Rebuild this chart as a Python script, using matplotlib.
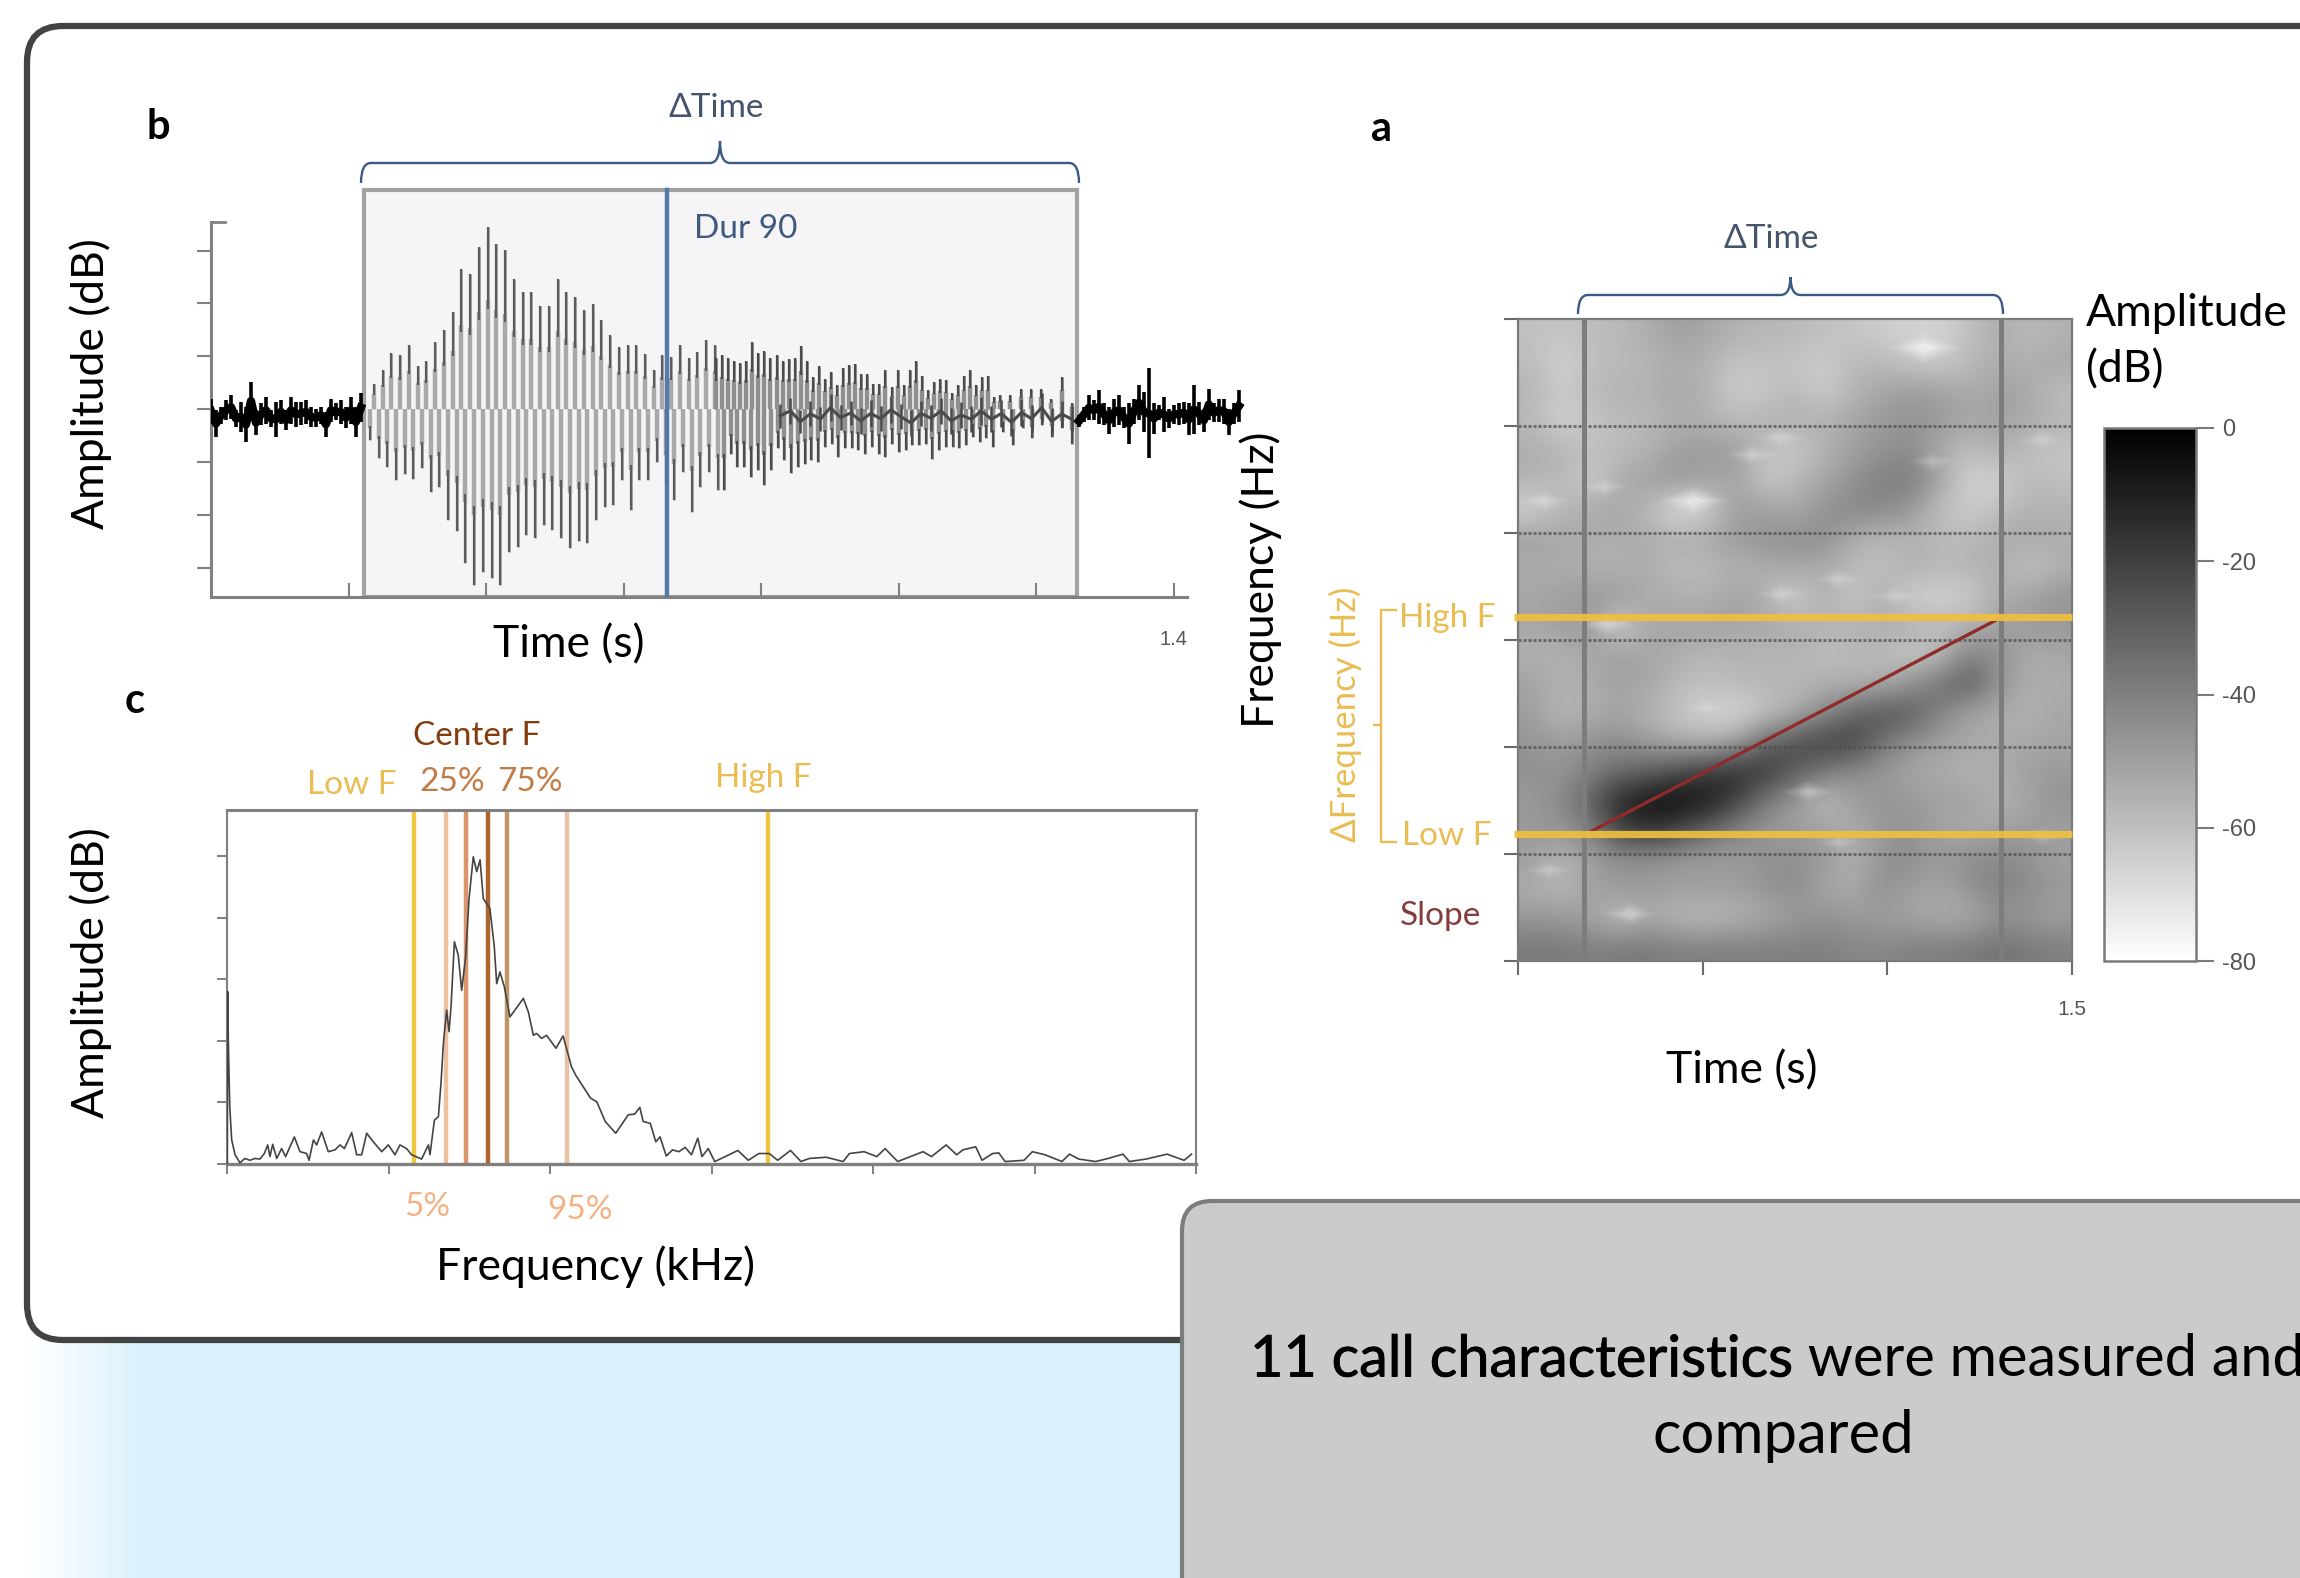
#!/bin/env python3
import numpy as np
from matplotlib import patheffects
from matplotlib import pyplot as plt
from matplotlib.patches import FancyBboxPatch, PathPatch
from matplotlib.path import Path

W, H = 2300, 1578

# waveform (panel b), y in tick steps, x in seconds
wave_top_a = [.48, .75, 1.06, 1.02, 1.22, .82, .91, 1.27, 1.49, 1.84, 2.65, 2.56, 3.06, 3.44, 3.13, 3.01, 2.47, 2.21,
              2.21, 1.96, 1.96, 2.47, 2.21, 2.12, 1.87, 1.98, 1.68, 1.40, 1.18, 1.21, 1.21, 1.04, .74, 1.02, .99, 1.21,
              .96, 1.08, 1.30, 1.21]
wave_bot_a = [-.58, -.93, -1.10, -1.34, -1.23, -1.31, -1.12, -1.56, -1.47, -2.09, -2.31, -2.91, -3.32, -3.07, -3.19,
              -3.32, -2.69, -2.60, -2.38, -2.44, -2.19, -2.28, -2.44, -2.63, -2.50, -2.53, -2.09, -1.84, -1.81, -1.34,
              -1.91, -1.34, -1.34, -1.0, -1.43, -1.72, -1.18, -1.94, -1.47, -1.18, -1.53]
wave_top_b = [.96, 1.03, .96, .92, .87, .91, 1.27, 1.07, 1.11, .96, 1.02, .92, .94, .96, 1.19, .91, .60, .82, .58, .70,
              .45, .77, .83, .86, .67, .66, .48, .48, .74, .42, .74, .45, .74, .91, .62, .36, .52, .57, .55, .31, .45,
              .62, .74, .45, .61, .62, .23]
wave_bot_b = [-1.53, -.84, -1.09, -1.09, -1.28, -1.15, -1.43, -1.15, -.74, -.96, -1.21, -1.09, -1.03, -.96, -.99, -.71,
              -.65, -.90, -.74, -.74, -.77, -.84, -.71, -.84, -.90, -.65, -.81, -.77, -.68, -.68, -.65, -.95, -.77,
              -.71, -.71, -.74, -.68, -.52, -.62, -.55, -.71]
wave_top_c = [.26, .26, .39, .39, .39, .20, .61, .11]
wave_bot_c = [-.43, -.68, -.36, -.55, -.30, -.52, -.36, -.65]
core_up = [.10, .22, -.02, .15, .05, .28, .08, .16, .02, .18, .06, .24, .10, -.02, .16, .08, .22, .02, .14, .06, .24,
           .06, .18, 0, .20, .08, .30, .02, .16, .06]
core_lo = [-.35, -.28, -.45, -.32, -.42, -.22, -.40, -.30, -.46, -.34, -.42, -.26, -.38, -.50, -.32, -.42, -.28, -.46,
           -.36, -.44, -.30, -.44, -.34, -.50, -.32, -.44, -.24, -.48, -.34, -.44]
noise_l_up = [.20, -.02, .04, .17, .26, -.02, .14, .04, .52, -.02, .11, .23, -.02, .14, .17, -.02, .23, .14, .14, .17,
              .04, .01, .04, -.05, .20, .11, .17, .04, .23, .04, .30]
noise_l_lo = [-.27, -.52, -.27, -.21, -.18, -.33, -.43, -.62, -.21, -.49, -.30, -.27, -.33, -.52, -.27, -.40, -.27,
              -.33, -.30, -.27, -.33, -.33, -.27, -.52, -.24, -.21, -.27, -.36, -.27, -.52, -.24]
noise_r_up = [-.11, .04, .26, .17, .36, .11, .04, .20, .26, .04, .11, .20, .45, .33, .77, .11, .08, .23, .01, .08, .11,
              .14, .11, .45, .14, .01, .39, .11, .20, .20, .01, .11, .36]
noise_r_lo = [-.33, -.24, -.21, -.21, -.27, -.30, -.46, -.33, -.30, -.36, -.65, -.27, -.21, -.43, -.93, -.46, -.21,
              -.43, -.36, -.27, -.30, -.27, -.49, -.46, -.30, -.43, -.21, -.24, -.24, -.27, -.49, -.27, -.24]
wave_start, wave_end = .2225, 1.26
dur90_time = .663

# spectrum (panel c)
spec_freq = [.002, .004, .008, .017, .029, .050, .080, .111, .142, .173, .204, .231, .252, .266, .283, .308, .338, .363,
             .417, .452, .493, .508, .535, .555, .586, .627, .669, .700, .727, .772, .803, .834, .865, .906, .958, .999,
             1.040, 1.071, 1.112, 1.143, 1.205, 1.247, 1.257, 1.284, 1.309, 1.325, 1.340, 1.360, 1.375, 1.387, 1.408,
             1.432, 1.453, 1.478, 1.498, 1.525, 1.546, 1.567, 1.587, 1.628, 1.655, 1.670, 1.690, 1.717, 1.752, 1.783,
             1.835, 1.866, 1.897, 1.917, 1.948, 1.979, 2.037, 2.081, 2.133, 2.160, 2.212, 2.251, 2.290, 2.342, 2.407,
             2.485, 2.524, 2.556, 2.577, 2.621, 2.655, 2.681, 2.720, 2.759, 2.798, 2.837, 2.876, 2.915, 2.941, 2.980,
             3.020, 3.085, 3.163, 3.228, 3.293, 3.358, 3.410, 3.489, 3.554, 3.606, 3.710, 3.815, 3.854, 3.945, 4.023,
             4.075, 4.153, 4.231, 4.310, 4.362, 4.453, 4.518, 4.557, 4.636, 4.675, 4.740, 4.779, 4.818, 4.935, 4.987,
             5.065, 5.170, 5.217, 5.274, 5.378, 5.456, 5.548, 5.587, 5.691, 5.821, 5.926, 5.972]
spec_amp = [0, 2.80, 2.01, .93, .39, .15, .02, .09, .06, .09, .08, .17, .31, .12, .32, .09, .25, .12, .44, .20, .17, .06,
            .39, .31, .52, .20, .23, .31, .25, .51, .15, .15, .50, .36, .20, .31, .15, .31, .25, .15, .08, .31, .15, .71,
            .77, 1.31, 1.96, 2.50, 2.15, 2.55, 3.61, 3.39, 2.82, 3.37, 4.29, 4.99, 4.75, 4.94, 4.31, 4.15, 3.53, 2.93,
            3.12, 2.88, 2.39, 2.50, 2.69, 2.47, 2.09, 2.12, 2.04, 2.09, 1.88, 2.08, 1.58, 1.44, 1.23, 1.07, 1.01, .69,
            .50, .80, .81, .92, .69, .66, .36, .44, .13, .23, .20, .27, .15, .42, .12, .25, .04, .12, .22, .06, .17, .17,
            .06, .22, .04, .09, .11, .04, .17, .20, .12, .25, .04, .12, .20, .12, .31, .15, .23, .28, .06, .17, .18, .04,
            .06, .20, .15, .04, .16, .08, .04, .09, .16, .04, .08, .16, .06, .16]
spec_marks = [1.158, 1.356, 1.480, 1.616, 1.734, 2.105, 3.35]
spec_mark_colors = ['#eec63f', '#edc0a2', '#d9966c', '#ae652d', '#c29767', '#ecc0a4', '#f0c53f']

# spectrogram (panel a), dB, top row first
spectro_db = [
    [-60, -62, -59, -58, -54, -50, -52, -56, -57, -58, -60, -62, -64, -66, -66, -60, -54, -58, -56],
    [-59, -66, -60, -58, -57, -54, -56, -62, -60, -62, -64, -58, -58, -62, -64, -58, -54, -56, -52],
    [-56, -64, -58, -56, -56, -52, -56, -64, -62, -58, -64, -56, -52, -48, -50, -54, -50, -52, -60],
    [-58, -66, -62, -58, -58, -54, -56, -58, -56, -54, -56, -52, -48, -46, -48, -52, -50, -54, -56],
    [-54, -56, -60, -59, -56, -50, -48, -50, -60, -64, -56, -50, -46, -44, -54, -60, -54, -60, -62],
    [-56, -58, -64, -54, -50, -46, -52, -50, -64, -58, -52, -46, -40, -38, -52, -66, -66, -58, -60],
    [-66, -58, -54, -52, -58, -72, -66, -50, -50, -54, -46, -42, -42, -48, -60, -64, -60, -56, -56],
    [-50, -52, -54, -54, -54, -54, -52, -48, -46, -44, -44, -54, -58, -56, -58, -58, -54, -52, -54],
    [-54, -54, -56, -56, -54, -60, -58, -56, -54, -52, -54, -58, -60, -54, -58, -56, -54, -62, -56],
    [-52, -50, -48, -48, -54, -54, -56, -50, -56, -66, -54, -64, -54, -66, -66, -64, -54, -52, -46],
    [-52, -50, -48, -66, -52, -52, -50, -52, -52, -54, -56, -56, -54, -54, -58, -56, -50, -48, -48],
    [-56, -56, -52, -50, -52, -54, -58, -56, -58, -56, -60, -58, -58, -64, -60, -40, -46, -54, -52],
    [-50, -56, -54, -50, -52, -58, -60, -58, -56, -58, -54, -56, -54, -46, -34, -28, -46, -54, -54],
    [-50, -58, -54, -52, -56, -62, -66, -68, -62, -54, -44, -32, -26, -28, -42, -52, -54, -56, -52],
    [-46, -50, -46, -44, -50, -54, -56, -50, -32, -24, -20, -20, -36, -46, -50, -52, -54, -52, -52],
    [-46, -46, -40, -34, -30, -24, -18, -14, -18, -28, -38, -44, -48, -52, -54, -56, -54, -50, -48],
    [-48, -44, -30, -12, -6, -3, -8, -20, -38, -48, -60, -50, -46, -48, -50, -50, -56, -52, -46],
    [-48, -46, -40, -20, -14, -22, -32, -42, -48, -50, -50, -54, -48, -46, -52, -54, -52, -48, -50],
    [-50, -58, -50, -46, -46, -48, -50, -48, -46, -44, -48, -56, -46, -44, -48, -44, -42, -46, -50],
    [-54, -58, -50, -48, -48, -50, -48, -50, -46, -44, -52, -54, -44, -50, -52, -46, -40, -44, -48],
    [-48, -48, -52, -60, -54, -58, -60, -56, -54, -48, -46, -48, -50, -52, -54, -54, -46, -48, -50],
    [-38, -38, -40, -38, -38, -40, -40, -40, -40, -40, -40, -42, -42, -40, -40, -38, -36, -38, -40],
]
spot_t = [1.10, .476, .072, .234, .633, .712, 1.12, 1.42, .712, .865, 1.02, .24, .786, .303, .082, .51, .87, 1.42]
spot_f = [5.73, 4.30, 4.30, 4.43, 4.73, 4.89, 4.67, 4.87, 3.43, 3.57, 3.41, 3.15, 1.58, .44, .85, 2.37, 1.11, 1.17]
spot_strength = [1, .9, .45, .4, .45, .4, .35, .35, .4, .4, .35, .6, .5, .55, .35, .3, .35, .4]
call_start, call_end = .179, 1.308
low_f, high_f = 1.187, 3.215
slope_t = [.20, 1.30]
slope_f = [1.215, 3.196]
colorbar_ticks = [0, -20, -40, -60, -80]

FONT = ['Lato', 'DejaVu Sans']
AXIS_GREY = '#808080'
LABEL_SIZE = 32
NOTE_SIZE = 24
LETTER_SIZE = 30
BOX_SIZE = 43
BLUE_TEXT = '#44546a'
YELLOW_TEXT = '#e9bd52'

plt.rcParams['font.family'] = FONT


def px_axes(fig, x0, y0, x1, y1):
    return fig.add_axes([x0 / W, 1 - y1 / H, (x1 - x0) / W, (y1 - y0) / H])


def curly_bracket(ax, x0, x1, y_tip, y_line, y_end, color):
    mid = (x0 + x1) / 2
    r = 10
    verts = [(x0, y_end), (x0, y_line), (x0 + r, y_line), (mid - r, y_line), (mid, y_line), (mid, y_tip),
             (mid, y_line), (mid + r, y_line), (x1 - r, y_line), (x1, y_line), (x1, y_end)]
    codes = [Path.MOVETO, Path.CURVE3, Path.CURVE3, Path.LINETO, Path.CURVE3, Path.CURVE3, Path.CURVE3, Path.CURVE3,
             Path.LINETO, Path.CURVE3, Path.CURVE3]
    ax.add_patch(PathPatch(Path(verts, codes), fill=False, edgecolor=color, linewidth=1.7))


def draw_cycles(ax, x, peaks, body='#a9a9a9', end='#5c5c5c'):
    peaks = np.array(peaks)
    ax.vlines(x, 0, peaks * 0.6, color=body, linewidth=3.2, zorder=3)
    ax.vlines(x, 0, peaks, color=body, linewidth=2.1, zorder=3)
    ax.vlines(x, peaks * 0.55, peaks, color=end, linewidth=1.6, zorder=4)


def draw_noise(ax, x, up, lo, color='black', width=2.6, band=3.4):
    up = np.array(up)
    lo = np.array(lo)
    ax.vlines(x, lo, up, color=color, linewidth=width, zorder=5)
    ax.plot(x, (up + lo) / 2, color=color, linewidth=width + band, zorder=5)


def waveform_plot(ax):
    ax.set_xlim(0, 1.504)
    ax.set_ylim(-3.55, 4.22)
    ax.patch.set_alpha(0)
    for side in ['top', 'right']:
        ax.spines[side].set_visible(False)
    ax.spines['left'].set_bounds(-3.55, 3.53)
    ax.spines['bottom'].set_bounds(0, 1.42)
    for side in ['left', 'bottom']:
        ax.spines[side].set_color(AXIS_GREY)
        ax.spines[side].set_linewidth(2.2)

    ax.axvspan(wave_start, wave_end, ymin=0, ymax=(4.15 + 3.55) / 7.77, facecolor='#f6f4f6', edgecolor='#a2a2a2',
               linewidth=3, zorder=1)

    draw_cycles(ax, np.linspace(.237, .733, len(wave_top_a)), wave_top_a)
    draw_cycles(ax, np.linspace(.231, .737, len(wave_bot_a)), wave_bot_a)
    draw_cycles(ax, np.linspace(.7345, 1.1396, len(wave_top_b)), wave_top_b, '#8f8f8f', '#4c4c4c')
    draw_cycles(ax, np.linspace(.746, 1.1375, len(wave_bot_b)), wave_bot_b, '#8f8f8f', '#4c4c4c')
    draw_cycles(ax, np.linspace(1.148, 1.252, len(wave_top_c)), wave_top_c, '#8f8f8f', '#4c4c4c')
    draw_cycles(ax, np.linspace(1.152, 1.252, len(wave_bot_c)), wave_bot_c, '#8f8f8f', '#4c4c4c')
    draw_noise(ax, np.linspace(.828, 1.252, len(core_up)), core_up, core_lo, '#4a4a4a', 1.8, 0.4)

    draw_noise(ax, np.linspace(0, .218, len(noise_l_up)), noise_l_up, noise_l_lo)
    draw_noise(ax, np.linspace(1.2625, 1.495, len(noise_r_up)), noise_r_up, noise_r_lo)

    ax.plot([dur90_time, dur90_time], [-3.55, 4.15], color='#4e74a6', linewidth=3.2, alpha=0.95, zorder=6)

    ax.set_yticks([-3, -2, -1, 0, 1, 2, 3])
    ax.set_yticklabels([])
    ax.tick_params(axis='y', length=10, width=1.5, color=AXIS_GREY)
    ax.set_xticks([.2, .4, .6, .8, 1.0, 1.2, 1.4])
    ax.set_xticklabels(['', '', '', '', '', '', '1.4'], family=['Liberation Sans'], fontsize=14.5, color='#555555')
    ax.tick_params(axis='x', direction='in', length=10, width=1.5, color=AXIS_GREY, pad=24)
    ax.plot([0, .02], [3.53, 3.53], color=AXIS_GREY, linewidth=2.0, clip_on=False, zorder=2)


def spectrum_plot(ax):
    ax.set_xlim(0, 6)
    ax.set_ylim(0, 5.75)
    for freq, color in zip(spec_marks, spec_mark_colors):
        ax.axvline(freq, color=color, linewidth=3.2, zorder=2)
    ax.plot(spec_freq, spec_amp, color='#444444', linewidth=1.2, zorder=3)
    for spine in ax.spines.values():
        spine.set_color(AXIS_GREY)
        spine.set_linewidth(1.5)
    ax.spines['top'].set_linewidth(2.2)
    ax.spines['bottom'].set_linewidth(2.4)
    ax.set_xticks(range(7))
    ax.set_yticks(range(6))
    ax.set_xticklabels([])
    ax.set_yticklabels([])
    ax.tick_params(axis='both', length=7, width=1.4, color=AXIS_GREY)


def spectrogram_plot(ax, cax, fig):
    ax.set_xlim(0, 1.5)
    ax.set_ylim(0, 6)
    im = ax.imshow(spectro_db, cmap='gray_r', vmin=-80, vmax=0, interpolation='bicubic', aspect='auto',
                   extent=[0, 1.5, 0, 6], zorder=1)
    # small bright diamonds, layered so the edge stays soft
    diamond = Path([(-1, 0), (0, .42), (1, 0), (0, -.42), (-1, 0)], closed=True)
    strength = np.array(spot_strength)
    for size, alpha in [(2200, .12), (1300, .16), (700, .2), (260, .3)]:
        ax.scatter(spot_t, spot_f, s=size * (strength + .2), marker=diamond, color='white', alpha=alpha * strength,
                   linewidths=0, zorder=1.5)

    for level in range(1, 6):
        ax.axhline(level, color='#4d4d4d', linewidth=2.0, linestyle=(0, (1.1, 0.7)), alpha=0.75, zorder=2)
    for t in [call_start, call_end]:
        ax.axvline(t, color='#7d7d7d', linewidth=3.6, zorder=3)
    for f in [low_f, high_f]:
        ax.plot([-.01, 1.5], [f, f], color='#efbf3f', linewidth=5.2, alpha=0.92, clip_on=False, solid_capstyle='butt',
                zorder=5)
    ax.plot(slope_t, slope_f, color='#8f2b2b', linewidth=2.4, zorder=4)

    for spine in ax.spines.values():
        spine.set_color('#7a7a7a')
        spine.set_linewidth(1.6)
    ax.set_xticks([0, .5, 1, 1.5])
    ax.set_xticklabels(['', '', '', '1.5'], family=['Liberation Sans'], fontsize=15, color='#555555')
    ax.set_yticks(range(7))
    ax.set_yticklabels([])
    ax.tick_params(axis='both', length=10, width=1.5, color='#6a6a6a')
    ax.tick_params(axis='x', pad=18)

    cbar = fig.colorbar(im, cax=cax, ticks=colorbar_ticks)
    cbar.outline.set_edgecolor('#7a7a7a')
    cbar.outline.set_linewidth(1.8)
    cbar.ax.set_yticklabels([str(v) for v in colorbar_ticks], family=['Liberation Sans'], fontsize=17, color='#555555')
    cbar.ax.tick_params(length=13, width=1.5, color='#7a7a7a', pad=6)


def page_background(ax):
    ax.axis('off')
    # light blue slide background that fades out on the left
    fade = np.ones((1, 300, 4))
    fade[..., :3] = [0xd9 / 255, 0xf1 / 255, 0xfc / 255]
    fade[..., 3] = np.clip((np.arange(300) - 25) / 125, 0, 1)
    ax.imshow(fade, extent=[0, 300, H, 1340], aspect='auto', zorder=0)
    ax.fill_between([300, W], 1340, H, color='#d9f1fc', linewidth=0, zorder=0)
    ax.set_xlim(0, W)
    ax.set_ylim(H, 0)
    ax.add_patch(FancyBboxPatch((27, 26), W + 200, 1314, boxstyle='round,pad=0,rounding_size=36', linewidth=4.5,
                                edgecolor='#434343', facecolor='white', zorder=1))
    ax.add_patch(FancyBboxPatch((1182, 1201), W, 600, boxstyle='round,pad=0,rounding_size=30', linewidth=3.0,
                                edgecolor='#7c7c7c', facecolor='#cbcbcb', zorder=2))


def page_labels(ax):
    ax.set_xlim(0, W)
    ax.set_ylim(H, 0)
    ax.axis('off')
    ax.patch.set_alpha(0)

    def label(x, y, text, size=LABEL_SIZE, color='black', **kwargs):
        ax.text(x, y, text, fontsize=size, color=color, ha='center', va='center', **kwargs)

    label(158, 127, 'b', LETTER_SIZE, fontweight='bold')
    label(1382, 129, 'a', LETTER_SIZE, fontweight='bold')
    label(135, 701, 'c', LETTER_SIZE, fontweight='bold')

    label(91, 384, 'Amplitude (dB)', rotation=90)
    label(91, 973, 'Amplitude (dB)', rotation=90)
    label(569, 645, 'Time (s)')
    label(596, 1267, 'Frequency (kHz)')
    label(1261, 580, 'Frequency (Hz)', rotation=90)
    label(1742, 1071, 'Time (s)')
    ax.text(2086, 313, 'Amplitude', fontsize=LABEL_SIZE, ha='left', va='center')
    ax.text(2086, 370, '(dB)', fontsize=LABEL_SIZE, ha='left', va='center')

    label(716, 108, '\u0394Time', NOTE_SIZE, BLUE_TEXT)
    label(746, 229, 'Dur 90', NOTE_SIZE, '#3e5a7e')
    label(1771, 239, '\u0394Time', NOTE_SIZE, BLUE_TEXT)
    curly_bracket(ax, 361, 1079, 141, 163, 183, '#3b5b85')
    curly_bracket(ax, 1578, 2003, 277, 295, 314, '#3b5b85')

    label(477, 736, 'Center F', NOTE_SIZE, '#843c0c')
    label(352, 785, 'Low F', NOTE_SIZE, YELLOW_TEXT)
    label(452, 782, '25%', NOTE_SIZE, '#c27c45')
    label(530, 782, '75%', NOTE_SIZE, '#c27c45')
    label(763, 778, 'High F', NOTE_SIZE, YELLOW_TEXT)
    label(427, 1207, '5%', NOTE_SIZE, '#f4b183')
    label(580, 1210, '95%', NOTE_SIZE, '#f4b183')

    label(1447, 618, 'High F', NOTE_SIZE, YELLOW_TEXT)
    label(1447, 836, 'Low F', NOTE_SIZE, YELLOW_TEXT)
    label(1441, 916, 'Slope', NOTE_SIZE, '#843c3c')
    label(1345, 714, '\u0394Frequency (Hz)', 25, YELLOW_TEXT, rotation=90)
    ax.plot([1396, 1381, 1381, 1396], [610, 610, 842, 842], color=YELLOW_TEXT, linewidth=1.7)
    ax.plot([1381, 1374], [725, 725], color=YELLOW_TEXT, linewidth=1.7)

    # the grey box runs off the page on the right, the first line is cut there as in the original
    first = ax.text(1250, 1360, '11 call characteristics', fontsize=41.5, ha='left', va='center',
                    path_effects=[patheffects.withStroke(linewidth=0.6, foreground='black')])
    ax.annotate(' were measured and', xy=(1, 0.5), xycoords=first, fontsize=41.5, ha='left', va='center',
                annotation_clip=False)
    label(1783, 1436, 'compared', BOX_SIZE)


def main():
    fig = plt.figure(figsize=(W / 100, H / 100), dpi=100, facecolor='white')

    ax_bg = fig.add_axes([0, 0, 1, 1], zorder=0)
    page_background(ax_bg)

    waveform_plot(px_axes(fig, 211, 186, 1245, 597))
    spectrum_plot(px_axes(fig, 227, 810, 1196, 1164))
    spectrogram_plot(px_axes(fig, 1518, 319, 2072, 961), px_axes(fig, 2104, 428, 2196, 961), fig)

    ax_top = fig.add_axes([0, 0, 1, 1], zorder=10)
    page_labels(ax_top)

    fig.savefig('out.png', dpi=100)
    plt.close('all')


main()
